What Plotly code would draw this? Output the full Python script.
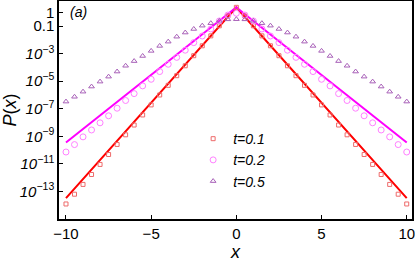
import plotly.graph_objects as go

# ---- data (log10 values) ----
x_pts = [-10, -9.5, -9, -8.5, -8, -7.5, -7, -6.5, -6, -5.5, -5, -4.5, -4, -3.5, -3, -2.5, -2, -1.5, -1, -0.5,
         0, 0.5, 1, 1.5, 2, 2.5, 3, 3.5, 4, 4.5, 5, 5.5, 6, 6.5, 7, 7.5, 8, 8.5, 9, 9.5, 10]

log_t01 = [-13.91, -13.2, -12.49, -11.77, -11.04, -10.32, -9.59, -8.89, -8.18, -7.45, -6.72, -6.0, -5.3, -4.6, -3.88, -3.15, -2.43, -1.71, -0.98, -0.27,
           0.36, -0.27, -0.98, -1.71, -2.43, -3.15, -3.88, -4.6, -5.3, -6.0, -6.72, -7.45, -8.18, -8.89, -9.59, -10.32, -11.04, -11.77, -12.49, -13.2, -13.91]
log_t02 = [-10.14, -9.6, -9.04, -8.54, -8.02, -7.51, -6.96, -6.4, -5.9, -5.34, -4.86, -4.3, -3.77, -3.27, -2.75, -2.2, -1.72, -1.21, -0.63, -0.2,
           -0.07, -0.2, -0.63, -1.21, -1.72, -2.2, -2.75, -3.27, -3.77, -4.3, -4.86, -5.34, -5.9, -6.4, -6.96, -7.51, -8.02, -8.54, -9.04, -9.6, -10.14]
log_t05 = [-6.48, -6.13, -5.76, -5.39, -5.03, -4.67, -4.3, -3.88, -3.54, -3.17, -2.8, -2.44, -2.13, -1.77, -1.47, -1.21, -0.97, -0.79, -0.62, -0.51,
           -0.5, -0.51, -0.62, -0.79, -0.97, -1.21, -1.47, -1.77, -2.13, -2.44, -2.8, -3.17, -3.54, -3.88, -4.3, -4.67, -5.03, -5.39, -5.76, -6.13, -6.48]

x_line = [-10, -8, -6, -4, -2, -1, -0.5, 0, 0.5, 1, 2, 4, 6, 8, 10]
log_line_t01 = [-13.49, -10.72, -7.95, -5.18, -2.41, -1.03, -0.34, 0.36, -0.34, -1.03, -2.41, -5.18, -7.95, -10.72, -13.49]
log_line_t02 = [-9.45, -7.49, -5.53, -3.57, -1.61, -0.63, -0.14, 0.36, -0.14, -0.63, -1.61, -3.57, -5.53, -7.49, -9.45]

labels = ["t=0.1", "t=0.2", "t=0.5"]

ytick_vals = [1, 0.1, 1e-3, 1e-5, 1e-7, 1e-9, 1e-11, 1e-13]
ytick_text = ["1", "0.1", "<i>10</i><sup>−3</sup>", "<i>10</i><sup>−5</sup>", "<i>10</i><sup>−7</sup>",
              "<i>10</i><sup>−9</sup>", "<i>10</i><sup>−11</sup>", "<i>10</i><sup>−13</sup>"]
xtick_vals = [-10, -5, 0, 5, 10]
xtick_text = ["−10", "−5", "0", "5", "10"]

def p(vals):
    return [10 ** v for v in vals]

fig = go.Figure()
fig.add_trace(go.Scatter(x=x_line, y=p(log_line_t01), mode="lines", line=dict(color="#ff0000", width=2),
                         showlegend=False, hoverinfo="skip"))
fig.add_trace(go.Scatter(x=x_line, y=p(log_line_t02), mode="lines", line=dict(color="#ff00ff", width=2),
                         showlegend=False, hoverinfo="skip"))
fig.add_trace(go.Scatter(x=x_pts, y=p(log_t01), mode="markers", name=labels[0],
                         marker=dict(symbol="square-open", size=4, color="#ee6a6a", line=dict(width=1))))
fig.add_trace(go.Scatter(x=x_pts, y=p(log_t02), mode="markers", name=labels[1],
                         marker=dict(symbol="circle-open", size=6, color="#ff80ff", line=dict(width=1))))
fig.add_trace(go.Scatter(x=x_pts, y=p(log_t05), mode="markers", name=labels[2],
                         marker=dict(symbol="triangle-up-open", size=5, color="#a860b8", line=dict(width=1))))

fig.update_layout(
    width=415, height=263,
    margin=dict(l=59, r=3, t=1, b=44),
    paper_bgcolor="white", plot_bgcolor="white",
    font=dict(family="Liberation Sans, Arial, sans-serif", size=15, color="black"),
    showlegend=True,
    legend=dict(x=0.38, y=0.44, xanchor="left", yanchor="top", bgcolor="rgba(0,0,0,0)",
                font=dict(size=14, style="italic"), itemwidth=30, tracegroupgap=0),
    xaxis=dict(range=[-10.41, 10.31], tickvals=xtick_vals, ticktext=xtick_text,
               ticks="inside", ticklen=4, tickwidth=1, tickcolor="black",
               ticklabeloverflow="allow", automargin=False,
               showline=True, linecolor="black", linewidth=1.5, mirror=True,
               showgrid=False, zeroline=False,
               title=dict(text="<i>x</i>", standoff=2)),
    yaxis=dict(type="log", range=[-15, 0.82], tickvals=ytick_vals, ticktext=ytick_text,
               ticks="inside", ticklen=4, tickwidth=1, tickcolor="black",
               ticklabeloverflow="allow", automargin=False,
               showline=True, linecolor="black", linewidth=1.5, mirror=True,
               showgrid=False, zeroline=False,
               title=dict(text="<i>P</i>(<i>x</i>)", standoff=2)),
    annotations=[dict(text="<i>(a)</i>", xref="paper", yref="paper", x=0.025, y=0.997,
                      xanchor="left", yanchor="top", showarrow=False, font=dict(size=14))],
)

fig.write_html("out.html", config={"displayModeBar": False},
               post_script="document.body.style.margin='0px';document.body.style.overflow='hidden';")
